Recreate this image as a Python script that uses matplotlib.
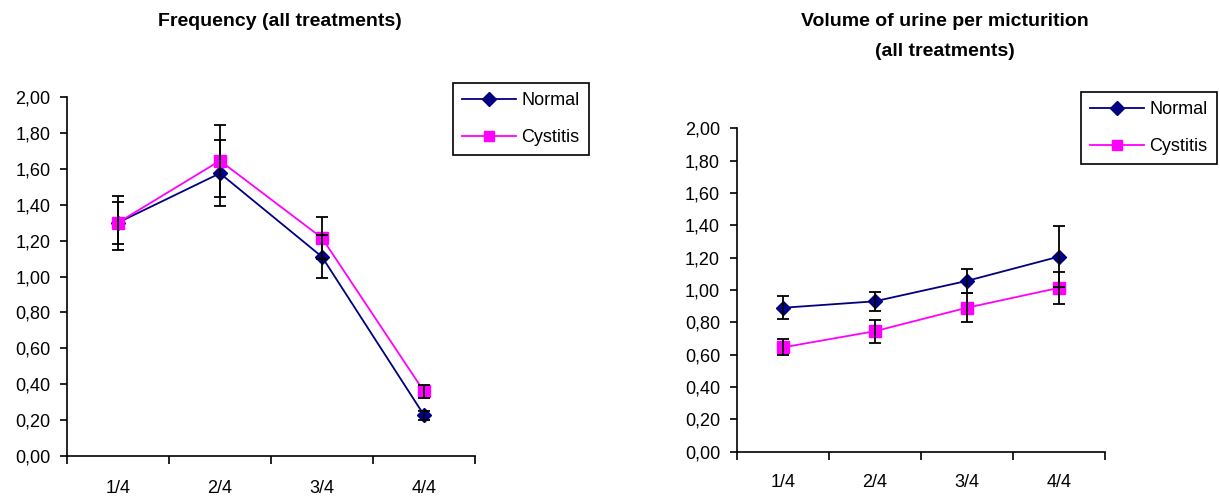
import matplotlib

matplotlib.use("Agg")
import matplotlib.pyplot as plt

plt.rcParams["font.family"] = ["Liberation Sans", "DejaVu Sans"]

# data
categories = ["1/4", "2/4", "3/4", "4/4"]
series_names = ["Normal", "Cystitis"]

freq_normal = [1.30, 1.575, 1.11, 0.228]
freq_normal_err = [0.15, 0.185, 0.12, 0.025]
freq_cystitis = [1.30, 1.645, 1.215, 0.36]
freq_cystitis_err = [0.117, 0.20, 0.115, 0.035]

vol_normal = [0.89, 0.93, 1.056, 1.206]
vol_normal_err = [0.07, 0.06, 0.075, 0.19]
vol_cystitis = [0.645, 0.745, 0.89, 1.013]
vol_cystitis_err = [0.05, 0.07, 0.09, 0.10]

y_ticks = [0.0, 0.2, 0.4, 0.6, 0.8, 1.0, 1.2, 1.4, 1.6, 1.8, 2.0]

NAVY = "#000080"
MAGENTA = "#FF00FF"
FS = 13
TITLE_FS = 14

fig = plt.figure(figsize=(12.2, 5.0), dpi=100)
ax1 = fig.add_axes([0.0549, 0.088, 0.3344, 0.718])
ax2 = fig.add_axes([0.6039, 0.0966, 0.3016, 0.6468])


def draw(ax, normal, normal_err, cyst, cyst_err, legend_anchor, xpad):
    x = list(range(1, len(categories) + 1))
    ln1, = ax.plot(x, normal, color=NAVY, lw=1.3, marker="D", ms=7.5,
                   mfc=NAVY, mec=NAVY, zorder=2, label=series_names[0])
    ln2, = ax.plot(x, cyst, color=MAGENTA, lw=1.3, marker="s", ms=8,
                   mfc=MAGENTA, mec=MAGENTA, zorder=2, label=series_names[1])
    for vals, errs in [(normal, normal_err), (cyst, cyst_err)]:
        ax.errorbar(x, vals, yerr=errs, fmt="none", ecolor="black",
                    elinewidth=1.3, capsize=4.5, capthick=1.3, zorder=3)

    ax.set_xlim(0.5, len(categories) + 0.5)
    ax.set_ylim(0, 2.0)
    ax.set_yticks(y_ticks)
    ax.set_yticklabels([f"{v:.2f}".replace(".", ",") for v in y_ticks])
    ax.set_xticks([i + 0.5 for i in range(len(categories) + 1)])
    ax.set_xticklabels([])
    ax.set_xticks(x, minor=True)
    ax.set_xticklabels(categories, minor=True)
    ax.tick_params(axis="x", which="major", direction="out", length=6, width=1.2)
    ax.tick_params(axis="x", which="minor", length=0, pad=xpad, labelsize=FS)
    ax.tick_params(axis="y", direction="out", length=5, width=1.2,
                   labelsize=FS, pad=7)
    for s in ["top", "right"]:
        ax.spines[s].set_visible(False)
    for s in ["left", "bottom"]:
        ax.spines[s].set_linewidth(1.2)
    ax.patch.set_visible(False)

    leg = fig.legend(handles=[ln1, ln2], loc="upper left",
                     bbox_to_anchor=legend_anchor, bbox_transform=fig.transFigure,
                     fontsize=FS, frameon=True, fancybox=False, framealpha=1,
                     edgecolor="black", handlelength=3.0, handletextpad=0.3,
                     labelspacing=1.1, borderpad=0.5, borderaxespad=0,
                     markerscale=0.9)
    leg.get_frame().set_linewidth(1.2)


draw(ax1, freq_normal, freq_normal_err, freq_cystitis, freq_cystitis_err,
     (453 / 1220, 1 - 83 / 500), 17)
draw(ax2, vol_normal, vol_normal_err, vol_cystitis, vol_cystitis_err,
     (1081 / 1220, 1 - 92 / 500), 16)

fig.text(280 / 1220, 1 - 21 / 500, "Frequency (all treatments)",
         ha="center", va="center", fontsize=TITLE_FS, fontweight="bold")
fig.text(945 / 1220, 1 - 21 / 500, "Volume of urine per micturition",
         ha="center", va="center", fontsize=TITLE_FS, fontweight="bold")
fig.text(945 / 1220, 1 - 52 / 500, "(all treatments)",
         ha="center", va="center", fontsize=TITLE_FS, fontweight="bold")

fig.savefig("out.png", dpi=100)
